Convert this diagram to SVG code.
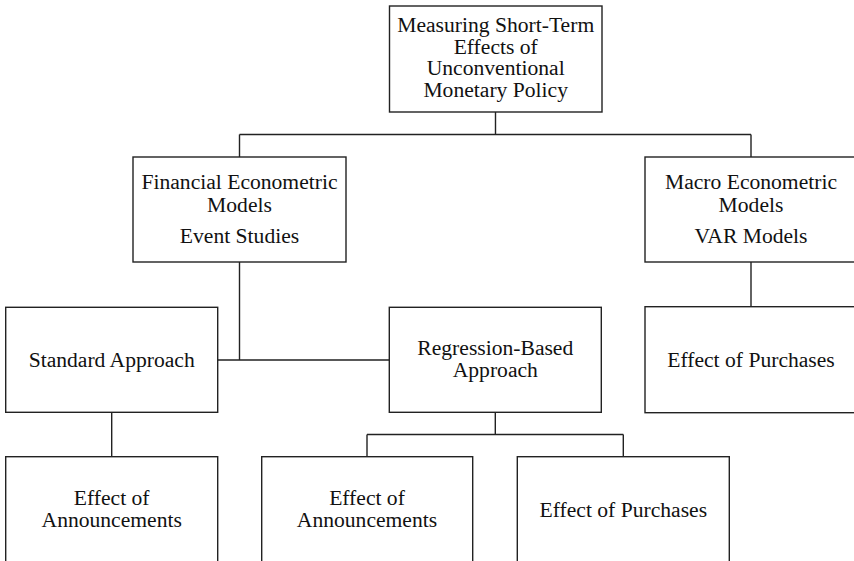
<svg xmlns="http://www.w3.org/2000/svg" width="854" height="561" viewBox="0 0 854 561">
<style>
.box{fill:#fff;stroke:#222;stroke-width:1.4}
.ln{fill:none;stroke:#222;stroke-width:1.4}
text{font-family:"Liberation Serif","Times New Roman",serif;font-size:21.6px;fill:#111;text-anchor:middle}
</style>
<rect width="854" height="561" fill="#fff"/>
<g id="connectors">
<path class="ln" d="M495.5 112V134.5M239.5 134.5H751M239.5 134.5V157M751 134.5V157"/>
<path class="ln" d="M239.5 262V360M217.7 360H389.3"/>
<path class="ln" d="M751 262V307"/>
<path class="ln" d="M111.7 412.3V456.7"/>
<path class="ln" d="M495.3 412.3V434.5M367 434.5H623.3M367 434.5V456.7M623.3 434.5V456.7"/>
</g>
<g id="root">
<rect class="box" x="389.5" y="6" width="212.5" height="106"/>
<text x="495.7" y="32">Measuring Short-Term</text>
<text x="495.7" y="53.7">Effects of</text>
<text x="495.7" y="75.4">Unconventional</text>
<text x="495.7" y="97">Monetary Policy</text>
</g>
<g id="financial">
<rect class="box" x="133" y="157" width="213" height="105"/>
<text x="239.5" y="189.3">Financial Econometric</text>
<text x="239.5" y="211.7">Models</text>
<text x="239.5" y="243.3">Event Studies</text>
</g>
<g id="macro">
<rect class="box" x="645" y="157" width="212" height="105"/>
<text x="751" y="189.3">Macro Econometric</text>
<text x="751" y="211.7">Models</text>
<text x="751" y="243.3">VAR Models</text>
</g>
<g id="standard">
<rect class="box" x="5.7" y="307.3" width="212" height="105"/>
<text x="111.7" y="367.3">Standard Approach</text>
</g>
<g id="regression">
<rect class="box" x="389.3" y="307.3" width="212" height="105"/>
<text x="495.3" y="355">Regression-Based</text>
<text x="495.3" y="376.7">Approach</text>
</g>
<g id="macro-purchases">
<rect class="box" x="645" y="306.7" width="212" height="106"/>
<text x="751" y="366.5">Effect of Purchases</text>
</g>
<g id="std-announcements">
<rect class="box" x="5.7" y="456.7" width="212" height="106"/>
<text x="111.7" y="505">Effect of</text>
<text x="111.7" y="526.7">Announcements</text>
</g>
<g id="reg-announcements">
<rect class="box" x="261.7" y="456.7" width="211" height="106"/>
<text x="367" y="505">Effect of</text>
<text x="367" y="526.7">Announcements</text>
</g>
<g id="reg-purchases">
<rect class="box" x="517.3" y="456.7" width="212" height="106"/>
<text x="623.3" y="516.7">Effect of Purchases</text>
</g>
</svg>
